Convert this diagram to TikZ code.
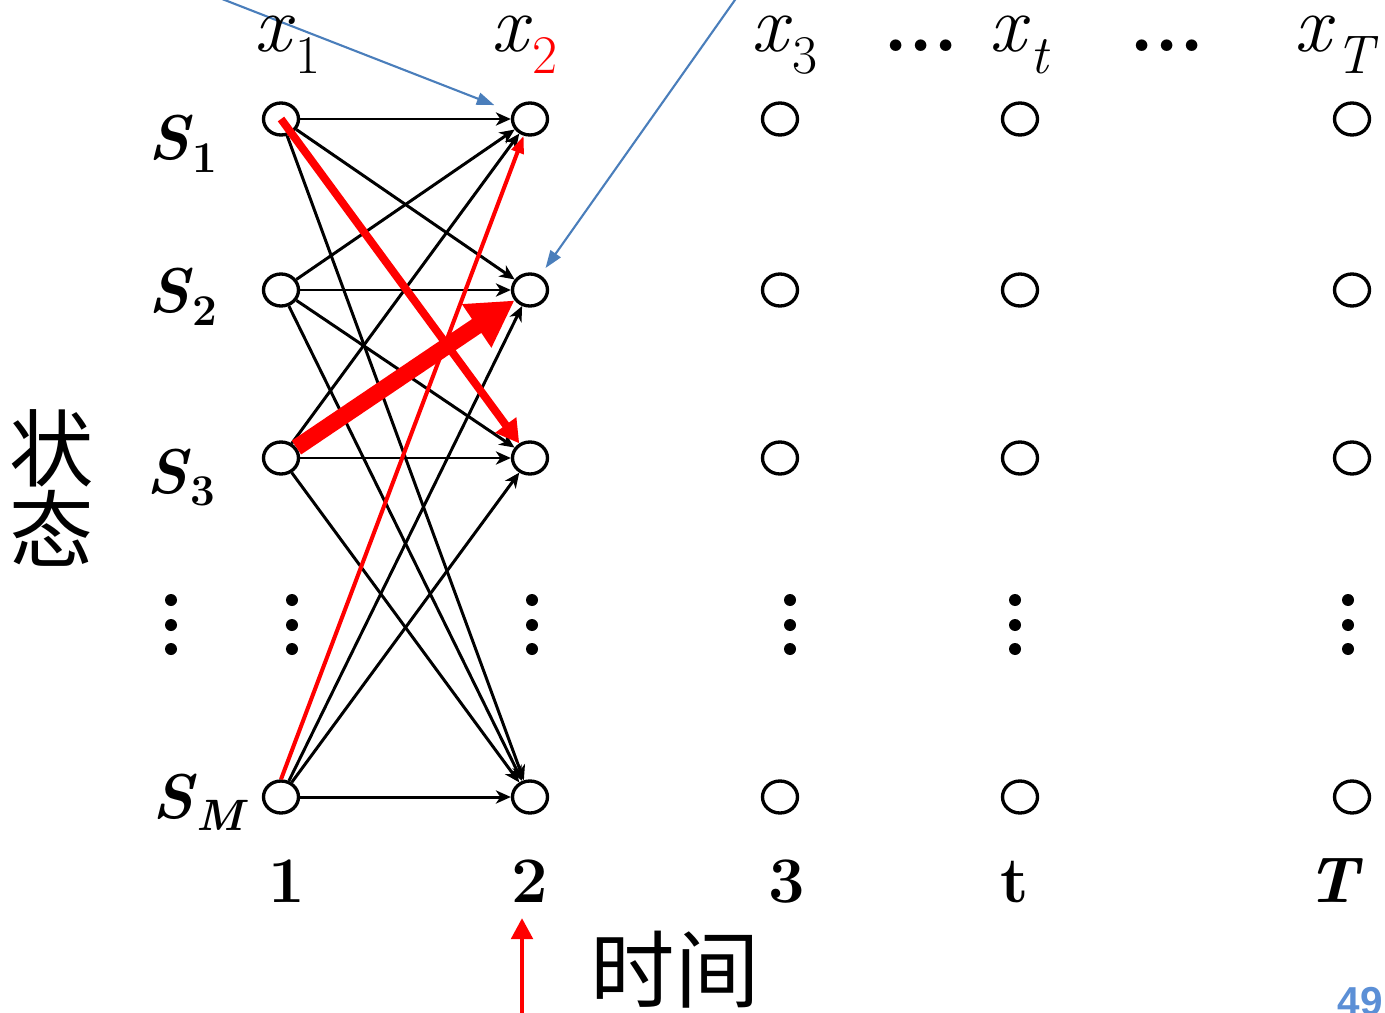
\documentclass[tikz,border=0pt]{standalone}
\usepackage{fontspec}
\newfontfamily\cjkfont{Noto Sans CJK SC}
\newfontfamily\pagefont{Liberation Sans}
\usetikzlibrary{arrows.meta, positioning, shapes.geometric}
\definecolor{pathred}{HTML}{FF0000}
\definecolor{noteblue}{HTML}{4A7EBB}
\definecolor{pageblue}{HTML}{5B8FD6}

\newcommand{\obsx}[1]{\textit{x}\raisebox{-12.5pt}{\fontsize{31}{31}\selectfont #1}}
\newcommand{\stlab}[1]{\textbf{\textit{S}}\raisebox{-7pt}{\fontsize{25}{25}\selectfont\bfseries #1}}

\begin{document}
\begin{tikzpicture}[x=0.02cm,y=-0.02cm,
    st/.style={draw,ellipse,line width=1.9pt,minimum width=0.70cm,minimum height=0.64cm,inner sep=0pt,fill=white},
    trans/.style={line width=1.7pt,-{Stealth[length=8.5pt,width=7.5pt,inset=2.5pt]}},
    note/.style={draw=noteblue,line width=1.2pt,-{Triangle[length=10pt,width=7pt]}},
    toplab/.style={anchor=base west,inner sep=0pt,font=\fontsize{46}{46}\selectfont},
    sidelab/.style={anchor=base west,inner sep=0pt,font=\fontsize{36}{36}\selectfont},
    timelab/.style={anchor=base,inner sep=0pt,font=\fontsize{37}{37}\selectfont\bfseries},
    vdot/.style={fill=black,circle,inner sep=0pt,minimum size=0.24cm}
  ]
    \clip (0,0) rectangle (1385,1013);
    \useasboundingbox (0,0) rectangle (1385,1013);

    % state grid: column c, row r (row 4 = S_M)
    \foreach \c/\x in {1/281,2/530,3/780,4/1020,5/1352}{
      \foreach \r/\y in {1/119,2/290,3/458,4/797}{
        \node[st] (n\c-\r) at (\x,\y) {};
      }
    }

    % vertical dots
    \foreach \x in {171,292,532,790,1015,1348}{
      \foreach \y in {600,625,649}{
        \node[vdot] (d-\x-\y) at (\x,\y) {};
      }
    }

    % transitions 1 -> 2
    \foreach \i/\j in {1/1,1/2,1/4,2/1,2/2,2/3,2/4,3/1,3/3,3/4,4/2,4/3,4/4}{
      \draw[trans] (n1-\i) -- (n2-\j);
    }
    \draw[draw=pathred,line width=2.3pt,-{Triangle[length=10pt,width=7pt]}] (n1-4.north) -- (n2-1);
    \draw[draw=pathred,line width=4.5pt,-{Triangle[length=13pt,width=14pt]}] (n1-1.center) -- (n2-3);
    \draw[draw=pathred,line width=9.5pt,-{Triangle[length=26pt,width=28pt]}] (n1-3) -- (n2-2);

    % pointers from outside
    \coordinate (p1) at (199,-10);
    \coordinate (p2) at (742,-10);
    \draw[note,shorten >=11pt] (p1) -- (n2-1);
    \draw[note,shorten >=5pt] (p2) -- (n2-2);

    % observations
    \node[toplab] (x1) at (254,52) {\obsx{1}};
    \node[toplab] (x2) at (491,52) {\obsx{\textcolor{pathred}{2}}};
    \node[toplab] (x3) at (751,52) {\obsx{3}};
    \node[toplab] (xt) at (989,52) {\obsx{\textit{t}}};
    \node[toplab] (xT) at (1294,52) {\obsx{\textit{T}}};
    \node[toplab,font=\fontsize{46}{46}\selectfont\bfseries] (dd1) at (883,52) {...};
    \node[toplab,font=\fontsize{46}{46}\selectfont\bfseries] (dd2) at (1129,52) {...};

    % states
    \node[sidelab] (s1) at (148,160) {\stlab{1}};
    \node[sidelab] (s2) at (148,313) {\stlab{2}};
    \node[sidelab] (s3) at (146,493) {\stlab{3}};
    \node[sidelab] (sm) at (152,818) {\stlab{\textit{M}}};
    \node[font=\fontsize{48}{48}\selectfont\cjkfont,align=center,inner sep=0pt] (state) at (52,488) {状\\[-2pt]态};

    % time axis
    \node[timelab] (t1) at (287,902) {1};
    \node[timelab] (t2) at (530,902) {2};
    \node[timelab] (t3) at (787,902) {3};
    \node[timelab] (tt) at (1015,902) {t};
    \node[timelab] (tT) at (1335,902) {\textit{T}};
    \node[font=\fontsize{48}{48}\selectfont\cjkfont,inner sep=0pt] (time) at (675,970) {时间};
    \coordinate (up0) at (522,1013);
    \coordinate (up1) at (522,918);
    \draw[draw=pathred,line width=2.8pt,-{Triangle[length=12pt,width=12pt]}] (up0) -- (up1);
    \node[anchor=north,inner sep=0pt,font=\pagefont\fontsize{23}{23}\selectfont\bfseries,text=pageblue] (page) at (1360,987) {49};
  \end{tikzpicture}
\end{document}
